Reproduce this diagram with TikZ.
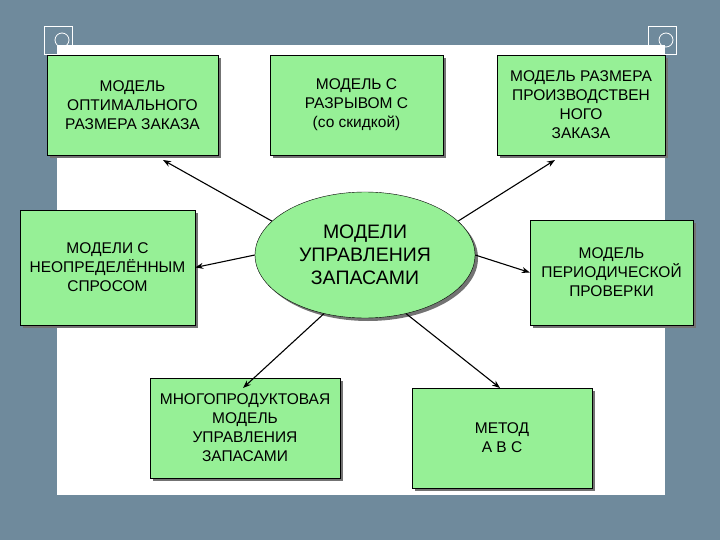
\documentclass[tikz,border=0pt]{standalone}
\usepackage{fontspec}
\setmainfont{Liberation Sans}
\usetikzlibrary{arrows.meta,shapes.geometric}
\definecolor{bg}{HTML}{6F8A9C}
\definecolor{gbox}{HTML}{96F096}
\tikzset{
 box/.style={draw=black, fill=gbox, align=center, font=\fontsize{15.5}{19}\selectfont, inner sep=1pt},
 arr/.style={-{Stealth[length=8pt,width=6pt]}, line width=1.1pt},
}
\begin{document}
\begin{tikzpicture}[x=1pt,y=-1pt]
\useasboundingbox (0,0) rectangle (720,540);
\fill[bg] (0,0) rectangle (720,540);
\fill[white] (57,45) rectangle (665,495);
\foreach \cx in {58,662}{
 \draw[white,thick] (\cx-14,26) rectangle (\cx+14,54);
 \draw[white,thick] (\cx+4,40) circle (7);
}
\foreach \n/\a/\b/\c/\d/\t in {
 b1/47/55/218/155/{МОДЕЛЬ\\ОПТИМАЛЬНОГО\\РАЗМЕРА  ЗАКАЗА},
 b2/270/55/443/155/{МОДЕЛЬ С\\РАЗРЫВОМ С\\(со скидкой)},
 b3/497/55/665/155/{МОДЕЛЬ РАЗМЕРА\\ПРОИЗВОДСТВЕН\\НОГО\\ЗАКАЗА},
 b4/20/210/195/325/{МОДЕЛИ С\\НЕОПРЕДЕЛЁННЫМ\\СПРОСОМ},
 b5/530/220/693/325/{МОДЕЛЬ\\ПЕРИОДИЧЕСКОЙ\\ПРОВЕРКИ},
 b6/150/378/340/478/{МНОГОПРОДУКТОВАЯ\\МОДЕЛЬ\\УПРАВЛЕНИЯ\\ЗАПАСАМИ},
 b7/412/388/592/488/{МЕТОД\\А В С}}{
 \fill[black!55] (\a+3,\b+3) rectangle (\c+3,\d+3);
 \node[box, minimum width=\c-\a, minimum height=\d-\b] (\n) at ({(\a+\c)/2},{(\b+\d)/2}) {\t};
}
\fill[black!55] (368,258) ellipse (110 and 63);
\node[draw=black, fill=gbox, ellipse, minimum width=220, minimum height=126, inner sep=0pt, align=center,
 font=\fontsize{19.5}{23}\selectfont] (c) at (365,255) {МОДЕЛИ\\УПРАВЛЕНИЯ\\ЗАПАСАМИ};
\coordinate (e1) at (163,160); \coordinate (e3) at (555,160);
\coordinate (e6) at (243,388); \coordinate (e7) at (500,388);
\draw[arr] (c.160) -- (e1);
\draw[arr] (c.20) -- (e3);
\draw[arr] (c.west) -- (b4.east);
\draw[arr] (c.east) -- (b5.west);
\draw[arr] (c.235) -- (e6);
\draw[arr] (c.305) -- (e7);
\end{tikzpicture}
\end{document}
